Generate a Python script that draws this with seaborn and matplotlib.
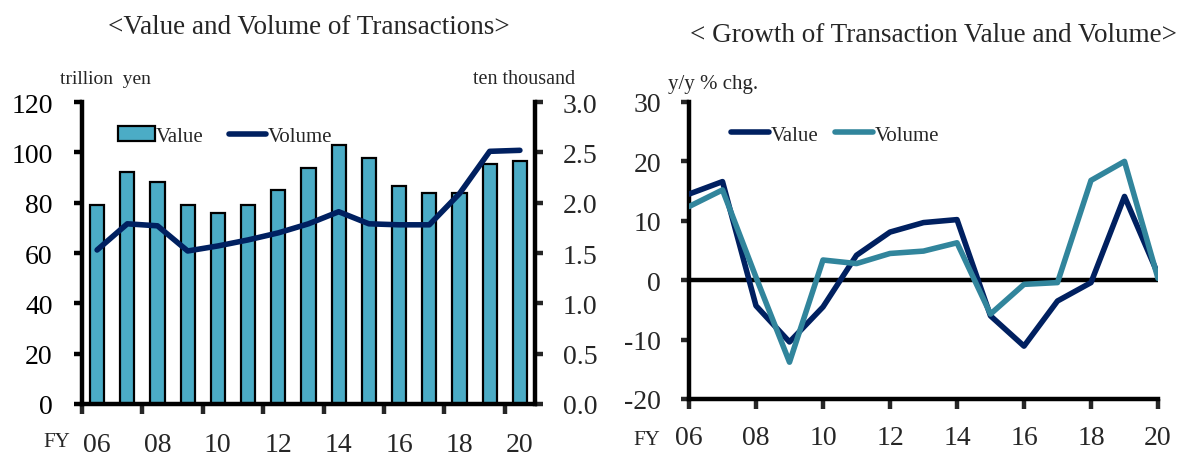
import numpy as np
import pandas as pd
import matplotlib
matplotlib.use("Agg")
import matplotlib.pyplot as plt
import seaborn as sns
from matplotlib.patches import Patch
from matplotlib.lines import Line2D

# ---------------- data ----------------
years = ["06", "07", "08", "09", "10", "11", "12", "13", "14", "15", "16", "17", "18", "19", "20"]
value_trillion_yen = [79.0, 92.0, 88.3, 78.9, 75.7, 78.9, 84.9, 93.9, 102.9, 97.6, 86.7, 83.9, 83.9, 95.5, 96.5]
volume_ten_thousand = [1.53, 1.79, 1.77, 1.52, 1.57, 1.63, 1.70, 1.79, 1.91, 1.79, 1.78, 1.78, 2.09, 2.51, 2.52]
value_yoy = [14.5, 16.6, -4.3, -10.4, -4.5, 4.2, 8.1, 9.7, 10.2, -6.0, -11.1, -3.5, -0.4, 14.1, 1.0]
volume_yoy = [12.4, 15.2, 0.5, -13.8, 3.4, 2.8, 4.5, 4.9, 6.3, -5.7, -0.7, -0.4, 16.8, 20.0, 0.3]
left_yticks = [0, 20, 40, 60, 80, 100, 120]
right_yticks = [0.0, 0.5, 1.0, 1.5, 2.0, 2.5, 3.0]
growth_yticks = [-20, -10, 0, 10, 20, 30]

BAR_C = "#4BACC6"
NAVY = "#002060"
TEAL = "#31859C"
LW = 4.0

sns.set_style("white")
plt.rcParams["font.family"] = ["Liberation Serif", "DejaVu Serif"]
plt.rcParams["axes.unicode_minus"] = False

fig = plt.figure(figsize=(11.79, 4.56), dpi=100)

W, H = 1179, 456
def ax_rect(x0, x1, ytop, ybot):
    return [x0 / W, 1 - ybot / H, (x1 - x0) / W, (ybot - ytop) / H]

# ---------------- left chart ----------------
df1 = pd.DataFrame({"year": years, "pos": np.arange(len(years)),
                    "value": value_trillion_yen, "volume": volume_ten_thousand})
ax1 = fig.add_axes(ax_rect(82, 535, 103, 405))
sns.barplot(data=df1, x="year", y="value", color=BAR_C, edgecolor="black",
            linewidth=1.6, width=0.47, saturation=1, ax=ax1)
ax1.set_xlim(-0.5, len(years) - 0.5)
ax1.set_ylim(0, 120)
ax1.set_yticks(left_yticks)
ax1.set_yticklabels([str(t) for t in left_yticks])
ax1.set_xlabel("")
ax1.set_ylabel("")
major = np.arange(-0.5, len(years) - 1, 2)
ax1.set_xticks(major)
ax1.set_xticklabels([""] * len(major))
minor_pos = np.arange(0, len(years), 2)
ax1.set_xticks(minor_pos, minor=True)
ax1.set_xticklabels([years[i] for i in minor_pos], minor=True)

ax2 = ax1.twinx()
sns.lineplot(data=df1, x="pos", y="volume", color=NAVY, linewidth=LW, ax=ax2)
ax2.set_ylim(0, 3.0)
ax2.set_yticks(right_yticks)
ax2.set_yticklabels([f"{t:.1f}" for t in right_yticks])
ax2.set_xlim(-0.5, len(years) - 0.5)
ax2.set_xlabel("")
ax2.set_ylabel("")

for a in (ax1, ax2):
    for s in a.spines.values():
        s.set_linewidth(3.2)
        s.set_color("black")
    a.spines["top"].set_visible(False)
ax1.spines["right"].set_visible(False)
ax2.spines["left"].set_visible(False)
ax2.spines["bottom"].set_visible(False)

ax1.tick_params(axis="y", which="major", direction="out", length=6, width=3.2,
                labelsize=20, pad=15, left=True, colors="black")
ax1.tick_params(axis="x", which="major", direction="out", length=7, width=3.2, bottom=True)
ax1.tick_params(axis="x", which="minor", length=0, labelsize=20, pad=20, bottom=True)
ax2.tick_params(axis="y", direction="out", length=6, width=3.2, labelsize=20, pad=14, right=True)

leg_handles = [Patch(facecolor=BAR_C, edgecolor="black", linewidth=1.6),
               Line2D([], [], color=NAVY, linewidth=LW)]
ax1.legend(leg_handles, ["Value", "Volume"], ncol=2, frameon=False, fontsize=15,
           loc="center left", bbox_to_anchor=(0.06, 0.887), handlelength=1.8,
           handleheight=0.7, handletextpad=0.05, columnspacing=1.2, borderaxespad=0)

fig.text(309 / W, 1 - 28 / H, "<Value and Volume of Transactions>", ha="center", va="center", fontsize=19.5)
fig.text(60 / W, 1 - 80 / H, "trillion  yen", ha="left", va="center", fontsize=14)
fig.text(575 / W, 1 - 80 / H, "ten thousand", ha="right", va="center", fontsize=14.5)
fig.text(57 / W, 1 - 443 / H, "FY", ha="center", va="center", fontsize=15)

# ---------------- right chart ----------------
yr_num = [int(y) for y in years]
df2 = pd.DataFrame({"year": yr_num * 2,
                    "chg": value_yoy + volume_yoy,
                    "series": ["Value"] * len(years) + ["Volume"] * len(years)})
ax3 = fig.add_axes(ax_rect(689, 1158, 103, 400))
ax3.axhline(0, color="black", linewidth=3.2, zorder=1)
sns.lineplot(data=df2, x="year", y="chg", hue="series", palette={"Value": NAVY, "Volume": TEAL},
             linewidth=LW, ax=ax3, zorder=3)
ax3.set_xlim(yr_num[0], yr_num[-1])
ax3.set_ylim(-20, 30)
ax3.set_yticks(growth_yticks)
ax3.set_yticklabels([str(t) for t in growth_yticks])
xt = yr_num[::2]
ax3.set_xticks(xt)
ax3.set_xticklabels([f"{t:02d}" for t in xt])
ax3.set_xlabel("")
ax3.set_ylabel("")
for s in ax3.spines.values():
    s.set_linewidth(3.2)
    s.set_color("black")
ax3.spines["top"].set_visible(False)
ax3.spines["right"].set_visible(False)
ax3.tick_params(axis="y", direction="out", length=6, width=3.2, labelsize=20, pad=14, left=True)
ax3.tick_params(axis="x", direction="out", length=7, width=3.2, labelsize=20, pad=12, bottom=True)
ax3.legend(handles=[Line2D([], [], color=NAVY, linewidth=LW), Line2D([], [], color=TEAL, linewidth=LW)],
           labels=["Value", "Volume"], ncol=2, frameon=False, fontsize=15,
           loc="center left", bbox_to_anchor=(0.072, 0.889), handlelength=1.8,
           handletextpad=0.1, columnspacing=0.8, borderaxespad=0)

fig.text(933 / W, 1 - 36 / H, "< Growth of Transaction Value and Volume>", ha="center", va="center", fontsize=19.5)
fig.text(668 / W, 1 - 85 / H, "y/y % chg.", ha="left", va="center", fontsize=15)
fig.text(647 / W, 1 - 441 / H, "FY", ha="center", va="center", fontsize=15)

fig.savefig("out.png", dpi=100)
